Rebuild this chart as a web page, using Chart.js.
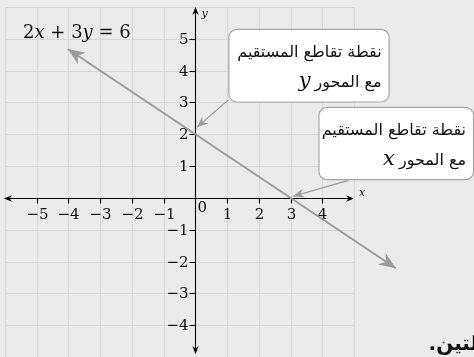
<!DOCTYPE html>
<html lang="ar">
<head>
<meta charset="UTF-8">
<title>2x + 3y = 6</title>
<script src="https://cdn.jsdelivr.net/npm/chart.js"></script>
<style>
  html, body { margin: 0; padding: 0; background: #ebebeb; }
  #wrap { position: relative; width: 474px; height: 357px; overflow: hidden; }
</style>
</head>
<body>
<div id="wrap"><canvas id="graph"></canvas></div>
<script>
// axis ranges of the grid
const xRange = [-6, 5];
const yRange = [-5, 6];
// tick labels shown on the axes
const xTickLabels = [-5, -4, -3, -2, -1, 1, 2, 3, 4];
const yTickLabels = [-4, -3, -2, -1, 1, 2, 3, 4, 5];
// end points of the line 2x + 3y = 6 (arrow tips)
const lineX = [-4.02, 6.32];
const lineY = [4.68, -2.21];
// callouts: box corners and arrow tip, in graph units
const calloutLines1 = ['نقطة تقاطع المستقيم', 'مع المحور'];
const calloutVars = ['y', 'x'];
const calloutBoxes = [
  { x1: 1.04, x2: 6.09, y1: 5.31, y2: 3.03, tipX: 0.05, tipY: 2.22, fromX: 1.04, fromY: 3.08 },
  { x1: 3.88, x2: 8.78, y1: 2.86, y2: 0.59, tipX: 3.08, tipY: 0.05, fromX: 4.82, fromY: 0.55 }
];

const GRID = '#d7d7d7', GRAY = '#9b9b9b', SERIF = '"DejaVu Serif", serif';

function stealth(ctx, x, y, ang, len, half, color) {
  ctx.save();
  ctx.translate(x, y);
  ctx.rotate(ang);
  ctx.fillStyle = color;
  ctx.beginPath();
  ctx.moveTo(0, 0);
  ctx.lineTo(-len, -half);
  ctx.lineTo(-len * 0.7, 0);
  ctx.lineTo(-len, half);
  ctx.closePath();
  ctx.fill();
  ctx.restore();
}

const gridPlugin = {
  id: 'gridAxes',
  beforeDatasetsDraw(chart) {
    const { ctx, scales: { x, y } } = chart;
    ctx.save();
    ctx.strokeStyle = GRID;
    ctx.lineWidth = 1;
    for (let v = xRange[0]; v <= xRange[1]; v++) {
      const px = Math.round(x.getPixelForValue(v)) + 0.5;
      ctx.beginPath();
      ctx.moveTo(px, y.getPixelForValue(yRange[1]));
      ctx.lineTo(px, y.getPixelForValue(yRange[0]));
      ctx.stroke();
    }
    for (let v = yRange[0]; v <= yRange[1]; v++) {
      const py = Math.round(y.getPixelForValue(v)) + 0.5;
      ctx.beginPath();
      ctx.moveTo(x.getPixelForValue(xRange[0]), py);
      ctx.lineTo(x.getPixelForValue(xRange[1]), py);
      ctx.stroke();
    }
    // axes
    const x0 = Math.round(x.getPixelForValue(0)) + 0.5;
    const y0 = Math.round(y.getPixelForValue(0)) + 0.5;
    const xl = x.getPixelForValue(xRange[0]) - 1, xr = x.getPixelForValue(xRange[1]);
    const yt = y.getPixelForValue(yRange[1]), yb = y.getPixelForValue(yRange[0]) - 3;
    ctx.strokeStyle = '#000';
    ctx.lineWidth = 1.1;
    ctx.beginPath();
    ctx.moveTo(xl + 3, y0); ctx.lineTo(xr - 3, y0);
    ctx.moveTo(x0, yt + 3); ctx.lineTo(x0, yb - 3);
    ctx.stroke();
    stealth(ctx, xr, y0, 0, 8, 3.2, '#000');
    stealth(ctx, xl, y0, Math.PI, 8, 3.2, '#000');
    stealth(ctx, x0, yt, -Math.PI / 2, 8, 3.2, '#000');
    stealth(ctx, x0, yb, Math.PI / 2, 8, 3.2, '#000');
    // ticks and labels
    ctx.fillStyle = '#111';
    ctx.font = '15px ' + SERIF;
    ctx.textAlign = 'center';
    ctx.textBaseline = 'middle';
    xTickLabels.forEach(v => {
      const px = Math.round(x.getPixelForValue(v)) + 0.5;
      ctx.beginPath(); ctx.moveTo(px, y0); ctx.lineTo(px, y0 + 5); ctx.stroke();
      ctx.fillText(v < 0 ? '\u2212' + Math.abs(v) : String(v), px, y0 + 17);
    });
    ctx.textAlign = 'right';
    yTickLabels.forEach(v => {
      const py = Math.round(y.getPixelForValue(v)) + 0.5;
      ctx.beginPath(); ctx.moveTo(x0 - 6, py); ctx.lineTo(x0, py); ctx.stroke();
      ctx.fillText(v < 0 ? '\u2212' + Math.abs(v) : String(v), x0 - 7, py + 1);
    });
    ctx.textAlign = 'left';
    ctx.fillText('0', x0 + 2, y0 + 10);
    // axis names
    ctx.font = 'italic 11px ' + SERIF;
    ctx.fillText('x', xr + 5, y0 - 5);
    ctx.fillText('y', x0 + 6, yt + 7);
    ctx.restore();
  },
  afterDatasetsDraw(chart) {
    const { ctx, scales: { x, y } } = chart;
    const pts = chart.getDatasetMeta(0).data;
    ctx.save();
    const a = pts[0], b = pts[pts.length - 1];
    const ang = Math.atan2(b.y - a.y, b.x - a.x);
    stealth(ctx, b.x, b.y, ang, 17, 7, GRAY);
    stealth(ctx, a.x, a.y, ang + Math.PI, 17, 7, GRAY);

    // equation label
    ctx.fillStyle = '#111';
    ctx.textBaseline = 'alphabetic';
    ctx.textAlign = 'left';
    let cx = 23;
    const base = 38;
    [['2', ''], ['x', 'italic '], [' + 3', ''], ['y', 'italic '], [' = 6', '']].forEach(([t, st]) => {
      ctx.font = st + '18px ' + SERIF;
      ctx.fillText(t, cx, base);
      cx += ctx.measureText(t).width;
    });

    // callouts
    calloutBoxes.forEach((c, i) => {
      const bx1 = x.getPixelForValue(c.x1), bx2 = Math.min(x.getPixelForValue(c.x2), chart.width - 1);
      const by1 = y.getPixelForValue(c.y1), by2 = y.getPixelForValue(c.y2);
      const fx = x.getPixelForValue(c.fromX), fy = y.getPixelForValue(c.fromY);
      const tx = x.getPixelForValue(c.tipX), ty = y.getPixelForValue(c.tipY);
      ctx.strokeStyle = GRAY;
      ctx.lineWidth = 1.2;
      ctx.beginPath(); ctx.moveTo(fx, fy); ctx.lineTo(tx, ty); ctx.stroke();
      stealth(ctx, tx, ty, Math.atan2(ty - fy, tx - fx), 11, 4.5, GRAY);
      ctx.fillStyle = '#fff';
      ctx.strokeStyle = '#a6a6a6';
      ctx.beginPath();
      ctx.roundRect(bx1 + 0.5, by1 + 0.5, bx2 - bx1, by2 - by1, 8);
      ctx.fill(); ctx.stroke();
      const right = bx2 - 7;
      ctx.fillStyle = '#111';
      ctx.font = '16px "DejaVu Sans", sans-serif';
      ctx.direction = 'rtl';
      ctx.textAlign = 'right';
      ctx.fillText(calloutLines1[0], right, by1 + 28);
      ctx.fillText(calloutLines1[1], right, by1 + 58);
      const w = ctx.measureText(calloutLines1[1]).width;
      ctx.direction = 'ltr';
      ctx.textAlign = 'right';
      ctx.font = 'italic 21px ' + SERIF;
      ctx.fillText(calloutVars[i], right - w - 4, by1 + 58);
    });

    // fragment of surrounding text
    ctx.font = 'bold 20px "DejaVu Sans", sans-serif';
    ctx.direction = 'rtl';
    ctx.textAlign = 'right';
    ctx.fillText('لتين.', chart.width + 4, 350);
    ctx.restore();
  }
};

new Chart(document.getElementById('graph'), {
  type: 'scatter',
  data: {
    datasets: [{
      data: lineX.map((v, i) => ({ x: v, y: lineY[i] })),
      showLine: true,
      borderColor: GRAY,
      borderWidth: 2,
      pointRadius: 0,
      clip: false
    }]
  },
  options: {
    responsive: true,
    maintainAspectRatio: false,
    animation: false,
    layout: { padding: { left: 5, right: 120, top: 7, bottom: 0 } },
    plugins: { legend: { display: false }, tooltip: { enabled: false } },
    scales: {
      x: { type: 'linear', min: xRange[0], max: xRange[1], display: false },
      y: { type: 'linear', min: yRange[0], max: yRange[1], display: false }
    }
  },
  plugins: [gridPlugin]
});
</script>
</body>
</html>
